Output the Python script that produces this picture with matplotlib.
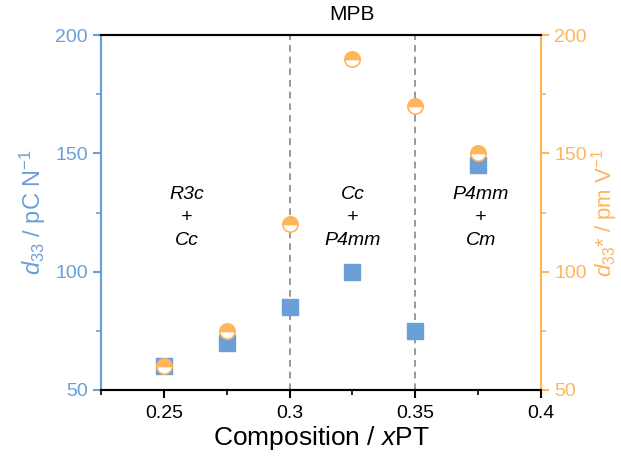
import matplotlib
matplotlib.use("Agg")
import matplotlib.pyplot as plt
from matplotlib.ticker import MultipleLocator

plt.rcParams['font.family'] = ['Liberation Sans', 'DejaVu Sans']
plt.rcParams['mathtext.fontset'] = 'custom'
plt.rcParams['mathtext.rm'] = 'Liberation Sans'
plt.rcParams['mathtext.it'] = 'Liberation Sans:italic'
plt.rcParams['axes.unicode_minus'] = False

composition = [0.25, 0.275, 0.3, 0.325, 0.35, 0.375]
d33 = [60, 70, 85, 100, 75, 145]
d33_star = [60, 75, 120, 190, 170, 150]
mpb_bounds = [0.3, 0.35]
phase_x = [0.259, 0.325, 0.376]
phase_labels = ["R3c\n+\nCc", "Cc\n+\nP4mm", "P4mm\n+\nCm"]

blue = '#6A9FD8'
orange = '#FFB55A'

fig = plt.figure(figsize=(6.21, 4.58), dpi=100)
ax = fig.add_axes([101/621, 1-390/458, 440/621, 355/458])
ax2 = ax.twinx()

ax.set_xlim(0.225, 0.4)
ax.set_ylim(50, 200)
ax2.set_ylim(50, 200)

for xb in mpb_bounds:
    ax.axvline(xb, color='#888888', ls=(0, (4, 3)), lw=1.2, zorder=1)

ax.plot(composition, d33, ls='none', marker='s', ms=11, color=blue, mec=blue, zorder=3)
ax2.plot(composition, d33_star, ls='none', marker='o', ms=11, fillstyle='top',
         color=orange, mfc=orange, mfcalt='white', mec=orange, mew=1.2, zorder=4)

for xp, lab in zip(phase_x, phase_labels):
    ax.text(xp, 123, lab, ha='center', va='center', fontsize=14, style='italic',
            linespacing=1.45)

ax.text(0.325, 1.03, 'MPB', transform=ax.get_xaxis_transform(), ha='center', va='bottom', fontsize=15)

ax.set_xticks([0.25, 0.3, 0.35, 0.4])
ax.set_xticklabels(['0.25', '0.3', '0.35', '0.4'])
ax.xaxis.set_minor_locator(MultipleLocator(0.025))
ax.yaxis.set_major_locator(MultipleLocator(50))
ax.yaxis.set_minor_locator(MultipleLocator(25))
ax2.yaxis.set_major_locator(MultipleLocator(50))
ax2.yaxis.set_minor_locator(MultipleLocator(25))

ax.tick_params(axis='x', which='major', direction='out', length=6, width=1.5, labelsize=14, pad=5)
ax.tick_params(axis='x', which='minor', direction='out', length=3.5, width=1.2)
ax.tick_params(axis='y', which='major', direction='out', length=6, width=1.5, color=blue, labelcolor=blue, labelsize=14)
ax.tick_params(axis='y', which='minor', direction='out', length=3.5, width=1.2, color=blue)
ax2.tick_params(axis='y', which='major', direction='out', length=6, width=1.5, color=orange, labelcolor=orange, labelsize=14)
ax2.tick_params(axis='y', which='minor', direction='out', length=3.5, width=1.2, color=orange)

for a in (ax, ax2):
    a.spines['top'].set_linewidth(1.5)
    a.spines['bottom'].set_linewidth(1.5)
    a.spines['left'].set_color(blue)
    a.spines['left'].set_linewidth(1.5)
    a.spines['right'].set_color(orange)
    a.spines['right'].set_linewidth(1.5)

ax.set_xlabel(r'Composition / $x$PT', fontsize=19, labelpad=1)
ax.set_ylabel(r'$d_{33}$ / pC N$^{-1}$', fontsize=17, color=blue, labelpad=5)
ax2.set_ylabel(r'$d_{33}$* / pm V$^{-1}$', fontsize=16, color=orange, labelpad=2)

fig.savefig('out.png', dpi=100)
